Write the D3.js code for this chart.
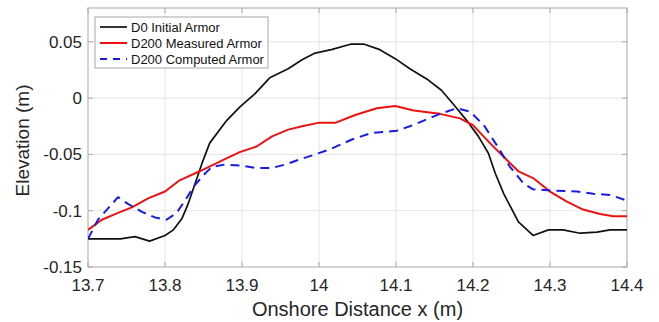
<!DOCTYPE html>
<html><head><meta charset="utf-8">
<script src="https://cdn.jsdelivr.net/npm/d3@7/dist/d3.min.js"></script>
<style>body{margin:0;background:#fff}svg{display:block}text{font-family:"Liberation Sans",Arial,Helvetica,sans-serif}</style>
</head><body><svg id="c" width="659" height="322"></svg>
<script>
const xTicks = [13.7, 13.8, 13.9, 14.0, 14.1, 14.2, 14.3, 14.4];
const xTickLabels = ["13.7","13.8","13.9","14","14.1","14.2","14.3","14.4"];
const yTicks = [-0.15, -0.1, -0.05, 0, 0.05];
const yTickLabels = ["-0.15","-0.1","-0.05","0","0.05"];
const seriesNames = ["D0 Initial Armor","D200 Measured Armor","D200 Computed Armor"];

const d0X = [13.700,13.742,13.761,13.780,13.800,13.811,13.822,13.830,13.839,13.848,13.858,13.880,13.897,13.917,13.936,13.960,13.978,13.995,14.016,14.042,14.058,14.079,14.099,14.118,14.142,14.159,14.174,14.192,14.207,14.220,14.229,14.240,14.259,14.278,14.298,14.317,14.339,14.361,14.378,14.400];
const d0Y = [-0.125,-0.125,-0.123,-0.127,-0.122,-0.117,-0.107,-0.094,-0.076,-0.058,-0.040,-0.020,-0.008,0.004,0.018,0.026,0.034,0.040,0.043,0.048,0.048,0.043,0.035,0.026,0.016,0.007,-0.005,-0.020,-0.034,-0.049,-0.067,-0.085,-0.110,-0.122,-0.117,-0.117,-0.120,-0.119,-0.117,-0.117];

const measX = [13.700,13.718,13.739,13.757,13.778,13.800,13.819,13.845,13.869,13.897,13.919,13.939,13.960,13.978,13.999,14.021,14.047,14.075,14.099,14.123,14.157,14.183,14.200,14.222,14.244,14.259,14.278,14.300,14.322,14.343,14.365,14.382,14.400];
const measY = [-0.117,-0.108,-0.102,-0.097,-0.089,-0.083,-0.073,-0.065,-0.057,-0.048,-0.043,-0.034,-0.028,-0.025,-0.022,-0.022,-0.015,-0.009,-0.007,-0.011,-0.014,-0.018,-0.024,-0.040,-0.055,-0.065,-0.071,-0.083,-0.092,-0.099,-0.103,-0.105,-0.105];

const compX = [13.700,13.713,13.739,13.752,13.770,13.787,13.802,13.815,13.826,13.839,13.852,13.861,13.878,13.900,13.917,13.939,13.956,13.973,13.995,14.016,14.042,14.068,14.101,14.118,14.136,14.157,14.179,14.196,14.214,14.231,14.248,14.266,14.278,14.300,14.335,14.356,14.378,14.400];
const compY = [-0.125,-0.108,-0.088,-0.094,-0.101,-0.106,-0.108,-0.102,-0.091,-0.077,-0.067,-0.061,-0.059,-0.060,-0.062,-0.062,-0.059,-0.055,-0.050,-0.045,-0.037,-0.031,-0.029,-0.025,-0.020,-0.014,-0.009,-0.012,-0.024,-0.042,-0.061,-0.076,-0.081,-0.082,-0.083,-0.085,-0.086,-0.091];

const L = 88, R = 627, T = 8, B = 267;
const svg = d3.select("#c");
const x = d3.scaleLinear().domain([13.7, 14.4]).range([L, R]);
const y = d3.scaleLinear().domain([-0.15, 0.08]).range([B, T]);

// grid
const g = svg.append("g");
g.selectAll(".gx").data(xTicks.slice(1, -1)).enter().append("line")
  .attr("x1", d => x(d)).attr("x2", d => x(d)).attr("y1", T).attr("y2", B)
  .attr("stroke", "#e4e4e4").attr("stroke-width", 1);
g.selectAll(".gy").data(yTicks.slice(1)).enter().append("line")
  .attr("x1", L).attr("x2", R).attr("y1", d => y(d)).attr("y2", d => y(d))
  .attr("stroke", "#e4e4e4").attr("stroke-width", 1);

// axes (inward ticks, all sides)
const tick = 5;
const ax = svg.append("g").attr("stroke", "#a8a8a8").attr("stroke-width", 1).attr("fill", "none");
ax.append("rect").attr("x", L).attr("y", T).attr("width", R - L).attr("height", B - T);
xTicks.forEach(t => {
  ax.append("line").attr("x1", x(t)).attr("x2", x(t)).attr("y1", B).attr("y2", B - tick);
  ax.append("line").attr("x1", x(t)).attr("x2", x(t)).attr("y1", T).attr("y2", T + tick);
});
yTicks.forEach(t => {
  ax.append("line").attr("x1", L).attr("x2", L + tick).attr("y1", y(t)).attr("y2", y(t));
  ax.append("line").attr("x1", R).attr("x2", R - tick).attr("y1", y(t)).attr("y2", y(t));
});

// tick labels
svg.append("g").selectAll("text").data(xTicks).enter().append("text")
  .attr("x", d => x(d)).attr("y", 291).attr("text-anchor", "middle")
  .attr("font-size", 17).attr("fill", "#262626").text((d, i) => xTickLabels[i]);
svg.append("g").selectAll("text").data(yTicks).enter().append("text")
  .attr("x", 82).attr("y", d => y(d) + 6).attr("text-anchor", "end")
  .attr("font-size", 17).attr("fill", "#262626").text((d, i) => yTickLabels[i]);

// axis labels
svg.append("text").attr("x", (L + R) / 2).attr("y", 316).attr("text-anchor", "middle")
  .attr("font-size", 20).attr("fill", "#262626").text("Onshore Distance x (m)");
svg.append("text").attr("transform", "translate(29," + ((T + B) / 2 + 3) + ") rotate(-90)")
  .attr("text-anchor", "middle").attr("font-size", 19).attr("fill", "#262626").text("Elevation (m)");

// lines
const line = d3.line().x(d => x(d[0])).y(d => y(d[1]));
const clip = svg.append("clipPath").attr("id", "cp").append("rect").attr("x", L).attr("y", T).attr("width", R - L).attr("height", B - T);
const plots = svg.append("g").attr("clip-path", "url(#cp)");
const styles = [
  {c: "#111111", w: 1.7, dash: null},
  {c: "#ee1111", w: 2, dash: null},
  {c: "#1a1ae6", w: 2, dash: "9,6"}
];
const data = [d3.zip(d0X, d0Y), d3.zip(measX, measY), d3.zip(compX, compY)];
data.forEach((dd, i) => {
  plots.append("path").attr("d", line(dd)).attr("fill", "none")
    .attr("stroke", styles[i].c).attr("stroke-width", styles[i].w)
    .attr("stroke-linejoin", "round")
    .attr("stroke-dasharray", styles[i].dash);
});

// legend
const lg = svg.append("g");
lg.append("rect").attr("x", 95).attr("y", 17).attr("width", 173).attr("height", 51)
  .attr("fill", "#fff").attr("stroke", "#a8a8a8").attr("stroke-width", 1);
seriesNames.forEach((n, i) => {
  const yy = 27 + i * 16;
  lg.append("line").attr("x1", 100).attr("x2", 127).attr("y1", yy).attr("y2", yy)
    .attr("stroke", styles[i].c).attr("stroke-width", styles[i].w)
    .attr("stroke-dasharray", styles[i].dash ? "7,6" : null);
  lg.append("text").attr("x", 131).attr("y", yy + 4.5).attr("font-size", 13)
    .attr("fill", "#111").text(n);
});
</script></body></html>
